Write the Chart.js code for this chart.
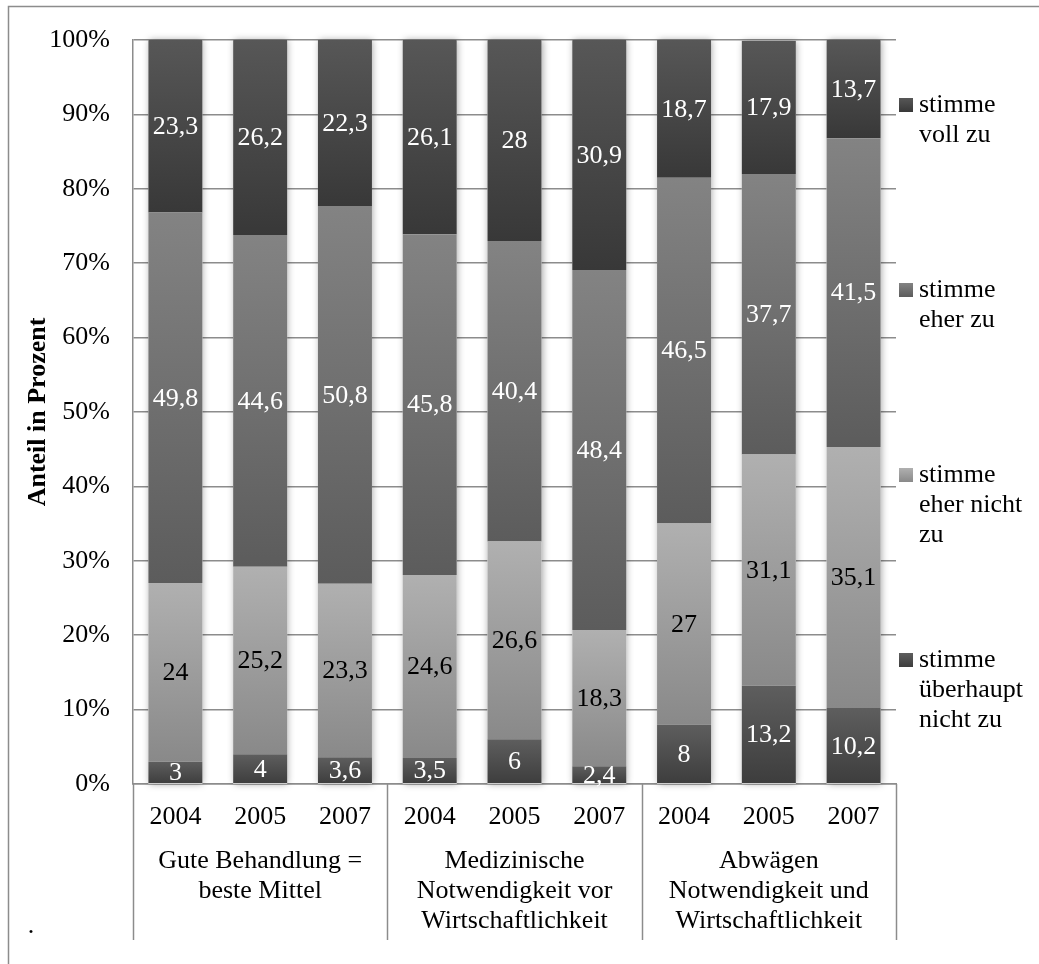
<!DOCTYPE html>
<html>
<head>
<meta charset="utf-8">
<script src="https://cdn.jsdelivr.net/npm/chart.js@4/dist/chart.umd.min.js"></script>
<style>
  html, body { margin: 0; padding: 0; background: #fff; font-family: "Liberation Serif", serif; }
  canvas { display: block; }
</style>
</head>
<body>
<canvas id="chart" width="1039" height="964"></canvas>
<script>
// Survey years per bar, grouped by statement
const years = ['2004', '2005', '2007', '2004', '2005', '2007', '2004', '2005', '2007'];
const groupLabels = [
  ['Gute Behandlung =', 'beste Mittel'],
  ['Medizinische', 'Notwendigkeit vor', 'Wirtschaftlichkeit'],
  ['Abwägen', 'Notwendigkeit und', 'Wirtschaftlichkeit']
];

// Answer shares in percent (stack order: bottom to top)
const stimmeUeberhauptNichtZu = [3, 4, 3.6, 3.5, 6, 2.4, 8, 13.2, 10.2];
const stimmeEherNichtZu       = [24, 25.2, 23.3, 24.6, 26.6, 18.3, 27, 31.1, 35.1];
const stimmeEherZu            = [49.8, 44.6, 50.8, 45.8, 40.4, 48.4, 46.5, 37.7, 41.5];
const stimmeVollZu            = [23.3, 26.2, 22.3, 26.1, 28, 30.9, 18.7, 17.9, 13.7];

const seriesNames = ['stimme überhaupt nicht zu', 'stimme eher nicht zu', 'stimme eher zu', 'stimme voll zu'];
const legendLines = [['stimme', 'überhaupt', 'nicht zu'], ['stimme', 'eher nicht', 'zu'], ['stimme', 'eher zu'], ['stimme', 'voll zu']];
const yTickValues = [0, 10, 20, 30, 40, 50, 60, 70, 80, 90, 100];

const FONT = '"Liberation Serif", "Times New Roman", serif';
const LINE = '#8c8c8c';
const seriesData = [stimmeUeberhauptNichtZu, stimmeEherNichtZu, stimmeEherZu, stimmeVollZu];
const gradientStops = [
  ['#5e5e5e', '#3d3d3d'],
  ['#b0b0b0', '#898989'],
  ['#838383', '#5c5c5c'],
  ['#575757', '#383838']
];
const labelColors = ['#ffffff', '#000000', '#ffffff', '#ffffff'];

// Vertical gradient per stacked segment
function segmentFill(ctx) {
  const d = ctx.datasetIndex;
  const chart = ctx.chart;
  const stops = gradientStops[d];
  if (ctx.type !== 'data' || !chart.chartArea || !chart.scales.y) return stops[0];
  const i = ctx.dataIndex;
  let base = 0;
  for (let k = 0; k < d; k++) base += seriesData[k][i];
  const top = base + seriesData[d][i];
  const y0 = chart.scales.y.getPixelForValue(Math.min(top, 100));
  const y1 = chart.scales.y.getPixelForValue(base);
  if (!isFinite(y0) || !isFinite(y1) || y0 === y1) return stops[0];
  const g = chart.ctx.createLinearGradient(0, y0, 0, y1);
  g.addColorStop(0, stops[0]);
  g.addColorStop(1, stops[1]);
  return g;
}

// Soft shadow behind every full bar
const barShadow = {
  id: 'barShadow',
  beforeDatasetsDraw(chart) {
    const c = chart.ctx;
    const metas = chart.getSortedVisibleDatasetMetas();
    const bottom = chart.scales.y.getPixelForValue(0);
    c.save();
    c.shadowColor = 'rgba(0,0,0,0.35)';
    c.shadowBlur = 7;
    c.shadowOffsetX = 1;
    c.fillStyle = '#ffffff';
    metas[0].data.forEach((bar, i) => {
      let top = bottom;
      metas.forEach(m => { top = Math.min(top, m.data[i].y); });
      top = Math.max(top, chart.chartArea.top);
      const w = bar.width;
      c.fillRect(bar.x - w / 2, top, w, bottom - top);
    });
    c.restore();
  }
};

// Value labels, group captions, separators, legend, frame
const decorations = {
  id: 'decorations',
  afterDatasetsDraw(chart) {
    const c = chart.ctx;
    c.save();
    c.font = '26px ' + FONT;
    c.textAlign = 'center';
    c.textBaseline = 'middle';
    chart.getSortedVisibleDatasetMetas().forEach(meta => {
      const d = meta.index;
      c.fillStyle = labelColors[d];
      meta.data.forEach((bar, i) => {
        const v = seriesData[d][i];
        const yTop = Math.max(bar.y, chart.chartArea.top);
        c.fillText(String(v).replace('.', ','), bar.x, (yTop + bar.base) / 2 + 1);
      });
    });
    c.restore();
  },
  afterDraw(chart) {
    const c = chart.ctx;
    const area = chart.chartArea;
    const x = chart.scales.x;
    const bottomLine = 940;
    c.save();
    c.strokeStyle = LINE;
    c.lineWidth = 1.5;
    // group separators below the axis
    const n = years.length / groupLabels.length;
    const step = (area.right - area.left) / years.length;
    for (let g = 0; g <= groupLabels.length; g++) {
      const gx = Math.round(area.left + g * n * step) + 0.5;
      c.beginPath();
      c.moveTo(gx, area.bottom);
      c.lineTo(gx, bottomLine);
      c.stroke();
    }
    // outer frame (top and left)
    c.beginPath();
    c.moveTo(8.5, 964);
    c.lineTo(8.5, 6.5);
    c.lineTo(1039, 6.5);
    c.stroke();

    // group captions
    c.fillStyle = '#000';
    c.font = '26px ' + FONT;
    c.textAlign = 'center';
    c.textBaseline = 'middle';
    groupLabels.forEach((lines, g) => {
      const cx = (x.getPixelForValue(g * n) + x.getPixelForValue(g * n + n - 1)) / 2;
      lines.forEach((t, k) => c.fillText(t, cx, 861 + k * 30));
    });
    c.fillText('.', 31, 926);

    // legend
    const order = [3, 2, 1, 0];
    order.forEach((d, k) => {
      const y0 = area.top + 65 + k * 185;
      const g = c.createLinearGradient(0, y0 - 7, 0, y0 + 7);
      g.addColorStop(0, gradientStops[d][0]);
      g.addColorStop(1, gradientStops[d][1]);
      c.fillStyle = g;
      c.fillRect(899, y0 - 7, 14, 14);
      c.fillStyle = '#000';
      c.textAlign = 'left';
      legendLines[d].forEach((t, j) => c.fillText(t, 919, y0 + j * 30));
    });
    c.restore();
  }
};

function drawChart() {
  Chart.defaults.font.family = FONT;
  new Chart(document.getElementById('chart'), {
    type: 'bar',
    data: {
      labels: years,
      datasets: seriesData.map((vals, d) => ({
        label: seriesNames[d],
        data: vals,
        backgroundColor: segmentFill,
        borderWidth: 0,
        barPercentage: 0.637,
        categoryPercentage: 1
      }))
    },
    options: {
      responsive: false,
      animation: false,
      layout: { padding: { left: 0, top: 40, right: 143, bottom: 0 } },
      plugins: { legend: { display: false }, tooltip: { enabled: false } },
      scales: {
        x: {
          stacked: true,
          grid: { display: false, drawTicks: false },
          border: { display: true, color: LINE, width: 1.5 },
          ticks: { color: '#000', font: { family: FONT, size: 26 }, padding: 18, maxRotation: 0, autoSkip: false },
          afterFit(scale) { scale.height = 180; }
        },
        y: {
          stacked: true,
          min: 0,
          max: 100,
          afterBuildTicks(scale) { scale.ticks = yTickValues.map(v => ({ value: v })); },
          grid: { color: LINE, lineWidth: 1.5, drawTicks: false },
          border: { display: true, color: LINE, width: 1.5 },
          ticks: { color: '#000', font: { family: FONT, size: 26 }, padding: 23, callback: v => v + '%' },
          title: {
            display: true,
            text: 'Anteil in Prozent',
            color: '#000',
            font: { family: FONT, size: 26, weight: 'bold' },
            padding: { top: 23, bottom: 0 }
          },
          afterFit(scale) { scale.width = 133; }
        }
      }
    },
    plugins: [barShadow, decorations]
  });
}

// make sure the serif face is ready before the canvas text is drawn
const fontLoads = document.fonts && document.fonts.load
  ? Promise.all([
      document.fonts.load('26px "Liberation Serif"'),
      document.fonts.load('bold 26px "Liberation Serif"')
    ]).catch(() => null)
  : Promise.resolve();
fontLoads.then(drawChart, drawChart);
</script>
</body>
</html>
